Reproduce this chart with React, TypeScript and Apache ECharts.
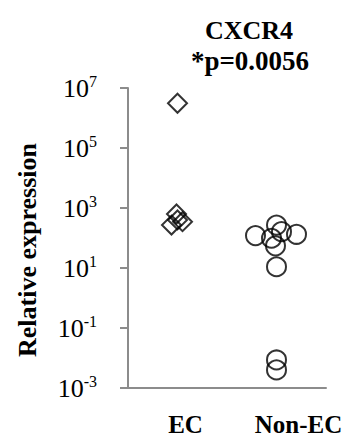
import React, { useEffect, useRef } from "react";
import * as echarts from "echarts";

// ---- data ----
const categories = ["EC", "Non-EC"];
const ecValues = [3.1e6, 630, 400, 350, 270];
const ecJitter = [0, -1, 0, 5, -6];
const nonEcValues = [270, 163, 133, 120, 98, 55, 11, 0.0086, 0.004];
const nonEcJitter = [0, 5, 20, -21, -5, -1, 0, 0, 0];
const exponentMin = -3;
const exponentMax = 7;
const exponentStep = 2;
const titleText = "CXCR4";
const pValueText = "*p=0.0056";
const yAxisName = "Relative expression";

const FONT = "Liberation Serif";
const AXIS_COLOR = "#8c8c8c";

const toY = (v: number) => Math.log10(v) - exponentMin;

export default function App() {
  const ref = useRef<HTMLDivElement>(null);

  useEffect(() => {
    if (!ref.current) return;
    const chart = echarts.init(ref.current, undefined, { renderer: "svg" });
    const markerStyle = {
      color: "rgba(0,0,0,0)",
      borderColor: "#000",
      borderWidth: 2,
    };
    const option = {
      animation: false,
      backgroundColor: "#fff",
      textStyle: { fontFamily: FONT },
      title: [
        {
          text: titleText,
          left: 244,
          top: 12,
          textAlign: "center",
          textStyle: { fontFamily: FONT, fontWeight: "bold", fontSize: 26, color: "#000" },
        },
        {
          text: pValueText,
          left: 245,
          top: 42,
          textAlign: "center",
          textStyle: { fontFamily: FONT, fontWeight: "bold", fontSize: 27, color: "#000" },
        },
      ],
      grid: { left: 128, right: 27, top: 88, bottom: 49 },
      xAxis: {
        type: "category",
        data: categories,
        boundaryGap: true,
        axisLine: { show: true, lineStyle: { color: AXIS_COLOR, width: 2 } },
        axisTick: { show: false },
        splitLine: { show: false },
        axisLabel: {
          margin: 24,
          fontFamily: FONT,
          formatter: (v: string) => (v === categories[0] ? `{a|${v}}` : `{b|${v}}`),
          rich: {
            a: { fontFamily: FONT, fontWeight: "bold", fontSize: 25, color: "#000", padding: [0, 0, 0, 16] },
            b: { fontFamily: FONT, fontWeight: "bold", fontSize: 25, color: "#000", padding: [0, 0, 0, 44] },
          },
        },
      },
      yAxis: {
        type: "value",
        min: 0,
        max: exponentMax - exponentMin,
        interval: exponentStep,
        name: yAxisName,
        nameLocation: "middle",
        nameGap: 88,
        nameTextStyle: {
          fontFamily: FONT,
          fontWeight: "bold",
          fontSize: 26,
          color: "#000",
          padding: [0, 24, 0, 0],
        },
        axisLine: { show: true, lineStyle: { color: AXIS_COLOR, width: 2 } },
        axisTick: { show: true, length: 8, lineStyle: { color: AXIS_COLOR, width: 2 } },
        splitLine: { show: false },
        axisLabel: {
          margin: 31,
          fontFamily: FONT,
          formatter: (v: number) => `{b|10}{s|${Math.round(v + exponentMin)}}`,
          rich: {
            b: { fontFamily: FONT, fontSize: 26, color: "#000", lineHeight: 30 },
            s: { fontFamily: FONT, fontSize: 16, color: "#000", verticalAlign: "top", lineHeight: 18 },
          },
        },
      },
      series: [
        {
          type: "scatter",
          name: categories[0],
          symbol: "diamond",
          symbolSize: 19,
          itemStyle: markerStyle,
          data: ecValues.map((v, i) => ({
            value: [categories[0], toY(v)],
            symbolOffset: [ecJitter[i], 0],
          })),
        },
        {
          type: "scatter",
          name: categories[1],
          symbol: "circle",
          symbolSize: 19,
          itemStyle: markerStyle,
          data: nonEcValues.map((v, i) => ({
            value: [categories[1], toY(v)],
            symbolOffset: [nonEcJitter[i], 0],
          })),
        },
      ],
    };
    chart.setOption(option as any);
    return () => chart.dispose();
  }, []);

  return (
    <div
      ref={ref}
      style={{ position: "fixed", left: 0, top: 0, width: 353, height: 437 }}
    />
  );
}
